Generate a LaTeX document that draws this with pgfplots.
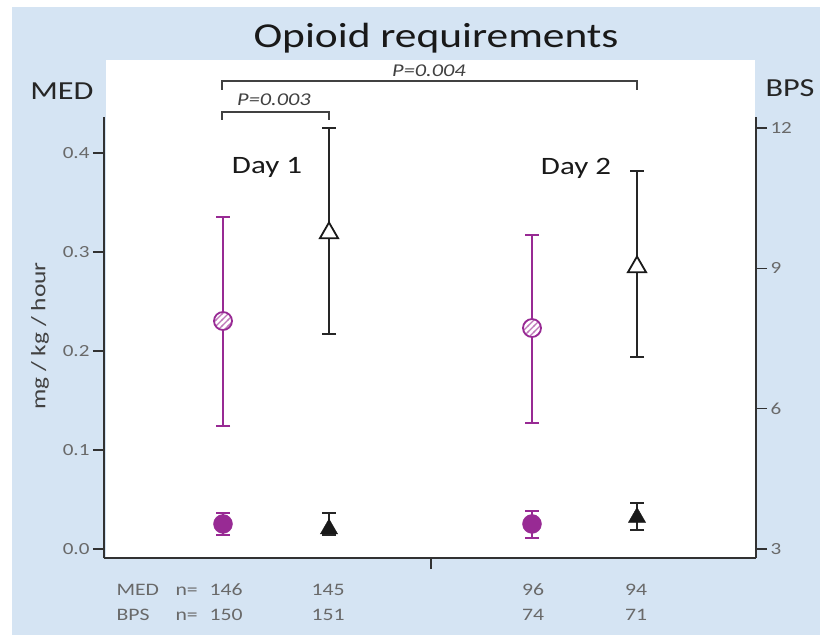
\documentclass[border=0pt]{standalone}
\usepackage{pgfplots}
\pgfplotsset{compat=1.18}
\usepackage{fontspec}
\setmainfont{Carlito}[FakeStretch=1.24]
\usetikzlibrary{patterns}
\definecolor{bgblue}{RGB}{213,228,243}
\definecolor{mpurple}{RGB}{152,42,148}
\definecolor{hpurple}{RGB}{190,120,185}
\definecolor{axgray}{RGB}{50,50,50}
\definecolor{tickgray}{RGB}{105,105,105}
\definecolor{dgray}{RGB}{65,65,65}
\pgfdeclarepatternformonly{myhatch}{\pgfpoint{-1pt}{-1pt}}{\pgfpoint{7pt}{7pt}}{\pgfpoint{6pt}{6pt}}{%
  \pgfsetlinewidth{1.3pt}%
  \pgfpathmoveto{\pgfpoint{-1pt}{-1pt}}%
  \pgfpathlineto{\pgfpoint{7pt}{7pt}}%
  \pgfusepathqstroke}
\pgfdeclareplotmark{hatchcirc}{%
  \pgfpathcircle{\pgfpointorigin}{\pgfplotmarksize}%
  \pgfsetfillcolor{white}\pgfusepathqfill
  \pgfpathcircle{\pgfpointorigin}{\pgfplotmarksize}%
  \pgfsetfillpattern{myhatch}{hpurple}\pgfusepathqfillstroke}
\pgfplotsset{
  common/.style={
    at={(104pt,80pt)}, anchor=south west,
    scale only axis, width=652pt, height=441pt,
    xmin=1.04, xmax=7.56,
    tick align=outside, major tick length=11pt,
    axis line style={draw=axgray, line width=2pt},
    tick style={draw=axgray, line width=1.4pt},
    /pgf/number format/assume math mode=true,
    tick label style={font=\fontsize{17}{20}\selectfont, text=tickgray},
  },
  ebars/.style={
    error bars/.cd, y dir=both, y explicit,
    error bar style={draw=#1, line width=2.3pt},
    error mark options={rotate=90, draw=#1, mark size=7pt, line width=2.3pt},
  },
}
\begin{document}
\begin{tikzpicture}[x=1pt,y=1pt]
\useasboundingbox (0,0) rectangle (820,638);
\fill[white] (0,0) rectangle (820,638);
\fill[bgblue] (12,3) rectangle (820,631);
\fill[white] (106,80) rectangle (755,578);

\begin{axis}[common,
  ymin=-0.00909, ymax=0.43636,
  axis x line*=bottom, axis y line*=left,
  xtick={4.31}, xticklabels={},
  ytick={0,0.1,0.2,0.3,0.4},
  y tick label style={/pgf/number format/.cd, fixed, fixed zerofill, precision=1},
]
\addplot[only marks, color=mpurple, mark=hatchcirc, mark size=9pt,
  mark options={draw=mpurple, line width=1.8pt}, ebars=mpurple]
coordinates {
  (2.23,0.2303) += (0,0.1051) -= (0,0.1061)
  (5.32,0.2232) += (0,0.0940) -= (0,0.0959)
};
\addplot[only marks, color=mpurple, mark=*, mark size=9.5pt,
  mark options={fill=mpurple, draw=mpurple}, ebars=mpurple]
coordinates {
  (2.23,0.0253) += (0,0.0111) -= (0,0.0112)
  (5.32,0.0253) += (0,0.0131) -= (0,0.0142)
};
\end{axis}

\begin{axis}[common,
  ymin=2.8076, ymax=12.235,
  axis y line*=right, axis x line=none,
  ytick={3,6,9,12},
]
\addplot[only marks, color=black, mark=triangle*, mark size=10.5pt,
  mark options={fill=white, draw=black!90, line width=1.8pt}, ebars=black!85]
coordinates {
  (3.29,9.755) += (0,2.245) -= (0,2.159)
  (6.37,9.028) += (0,2.052) -= (0,1.924)
};
\addplot[only marks, color=black, mark=triangle*, mark size=10pt,
  mark options={fill=black!90, draw=black!90}, ebars=black!85]
coordinates {
  (3.29,3.428) += (0,0.342) -= (0,0.129)
  (6.37,3.673) += (0,0.310) -= (0,0.267)
};
\end{axis}

% title and axis names
\node[anchor=base, font=\fontsize{35}{40}\selectfont, text=black!90] at (436,590) {Opioid requirements};
\node[anchor=base, font=\fontsize{26}{30}\selectfont, text=black!85] at (62,538) {MED};
\node[anchor=base, font=\fontsize{26}{30}\selectfont, text=black!85] at (790,541) {BPS};
\node[rotate=90, font=\fontsize{20.5}{24}\selectfont, text=dgray] at (40,302) {mg / kg / hour};
\node[anchor=base, font=\fontsize{25}{30}\selectfont, text=black!90] at (267,464) {Day 1};
\node[anchor=base, font=\fontsize{25}{30}\selectfont, text=black!90] at (576,463) {Day 2};

% significance brackets
\draw[dgray, line width=1.8pt] (222,548) -- (222,557) -- (637,557) -- (637,548);
\draw[dgray, line width=1.8pt] (222,518) -- (222,526) -- (329,526) -- (329,518);
\node[anchor=base, font=\fontsize{18}{20}\selectfont\itshape, text=dgray] at (274,532) {P=0.003};
\node[anchor=base, font=\fontsize{18}{20}\selectfont\itshape, text=dgray] at (429,561) {P=0.004};

% n counts
\begin{scope}[every node/.style={font=\fontsize{17.5}{20}\selectfont, text=tickgray}]
\node[anchor=base west] at (113,43) {MED};
\node[anchor=base west] at (172,43) {n=};
\node[anchor=base] at (226,43) {146};
\node[anchor=base] at (328,43) {145};
\node[anchor=base] at (533,43) {96};
\node[anchor=base] at (636,43) {94};
\node[anchor=base west] at (113,18) {BPS};
\node[anchor=base west] at (172,18) {n=};
\node[anchor=base] at (226,18) {150};
\node[anchor=base] at (328,18) {151};
\node[anchor=base] at (533,18) {74};
\node[anchor=base] at (636,18) {71};
\end{scope}
\end{tikzpicture}
\end{document}
